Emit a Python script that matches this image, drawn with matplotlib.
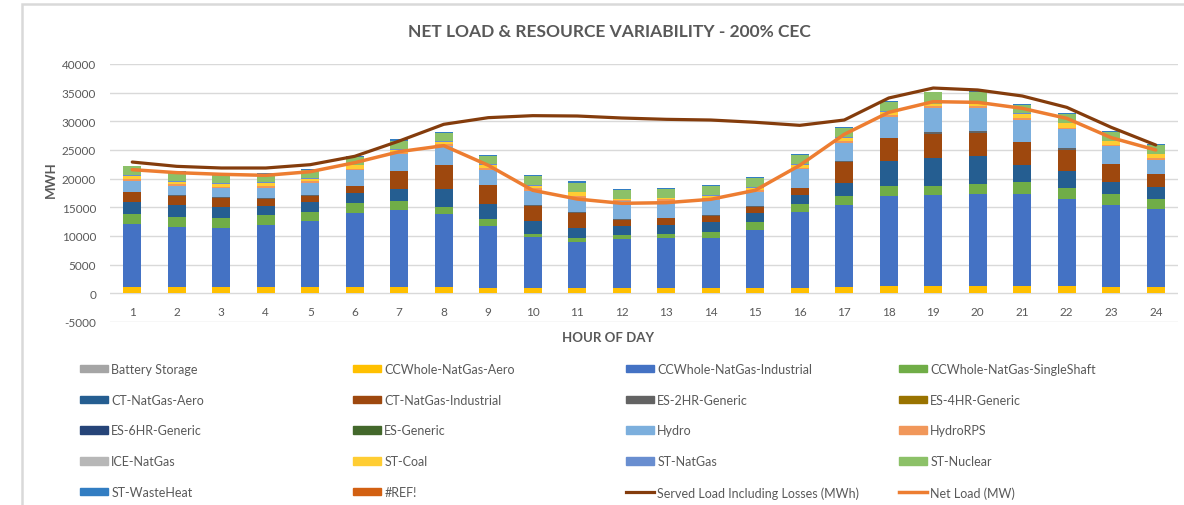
import matplotlib
matplotlib.use("Agg")
import matplotlib.pyplot as plt
import matplotlib.patches as mpatches
import matplotlib.lines as mlines
import numpy as np

plt.rcParams['font.family'] = ['Lato', 'DejaVu Sans']
plt.rcParams['axes.unicode_minus'] = False

hours = [str(h) for h in range(1, 25)]

# generation by resource, MWh per hour
battery_storage = [0] * 24
cc_aero = [1150, 1150, 1150, 1150, 1150, 1150, 1150, 1150, 1000, 1000, 1000, 1000,
           1000, 1000, 1000, 1000, 1150, 1280, 1280, 1280, 1280, 1280, 1160, 1160]
cc_industrial = [10950, 10420, 10190, 10770, 11520, 12860, 13380, 12630, 10740, 8880, 8010, 8480,
                 8590, 8650, 10050, 13190, 14260, 15640, 15930, 16050, 16050, 15230, 14310, 13610]
cc_singleshaft = [1800, 1800, 1740, 1740, 1520, 1800, 1520, 1340, 1230, 470, 580, 640,
                  760, 1110, 1330, 1330, 1510, 1740, 1570, 1740, 2030, 1860, 1860, 1740]
ct_aero = [2030, 2100, 2040, 1630, 1740, 1690, 2090, 3140, 2550, 2270, 1860, 1620,
           1570, 1680, 1690, 1690, 2380, 4360, 4770, 4830, 3020, 2910, 2030, 2090]
ct_industrial = [1690, 1560, 1570, 1220, 1100, 1160, 3200, 4120, 3320, 2670, 2620, 1110,
                 1220, 1110, 1050, 1160, 3670, 4070, 4240, 4070, 4020, 3780, 3140, 2210]
es_2hr = [80, 80, 80, 80, 80, 80, 80, 80, 80, 80, 80, 80,
          80, 80, 80, 80, 80, 80, 350, 340, 80, 230, 80, 80]
es_4hr = [0] * 24
es_6hr = [0] * 24
es_generic = [0] * 24
hydro = [1890, 1610, 1540, 1780, 2130, 2710, 2820, 3300, 2590, 2540, 2540, 3120,
         2940, 2710, 2420, 3240, 3230, 3640, 4130, 3960, 3750, 3310, 3060, 2420]
hydro_rps = [350, 290, 180, 290, 290, 240, 240, 230, 350, 400, 290, 170,
             240, 350, 350, 230, 290, 350, 350, 350, 350, 240, 290, 290]
ice_natgas = [0] * 24
st_coal = [520, 410, 640, 580, 470, 640, 520, 410, 520, 470, 640, 180,
           170, 290, 460, 520, 580, 530, 350, 400, 700, 810, 580, 640]
st_natgas = [100] * 24
st_nuclear = [1590, 1640, 1410, 1470, 1470, 1350, 1530, 1410, 1530, 1530, 1580, 1520,
              1470, 1640, 1530, 1530, 1530, 1520, 1990, 1940, 1530, 1530, 1470, 1530]
st_wasteheat = [60, 150, 150, 150, 200, 200, 250, 200, 180, 230, 230, 180,
                170, 180, 170, 170, 170, 180, 110, 170, 170, 170, 230, 180]
ref_err = [0] * 24

served_load = [22900, 22150, 21860, 21860, 22440, 23900, 26570, 29480, 30640, 30990, 30930, 30580,
               30350, 30230, 29830, 29300, 30230, 34070, 35810, 35470, 34420, 32440, 28950, 25870]
net_load = [21570, 21050, 20760, 20580, 21220, 22790, 24710, 25760, 22330, 17970, 16450, 15700,
            15810, 16400, 17970, 22330, 27730, 31570, 33430, 33310, 32270, 30520, 27150, 25000]

series = [
    ("Battery Storage", battery_storage, "#A5A5A5"),
    ("CCWhole-NatGas-Aero", cc_aero, "#FFC000"),
    ("CCWhole-NatGas-Industrial", cc_industrial, "#4472C4"),
    ("CCWhole-NatGas-SingleShaft", cc_singleshaft, "#70AD47"),
    ("CT-NatGas-Aero", ct_aero, "#255E91"),
    ("CT-NatGas-Industrial", ct_industrial, "#9E480E"),
    ("ES-2HR-Generic", es_2hr, "#636363"),
    ("ES-4HR-Generic", es_4hr, "#997300"),
    ("ES-6HR-Generic", es_6hr, "#264478"),
    ("ES-Generic", es_generic, "#43682B"),
    ("Hydro", hydro, "#7CAFDD"),
    ("HydroRPS", hydro_rps, "#F1975A"),
    ("ICE-NatGas", ice_natgas, "#B7B7B7"),
    ("ST-Coal", st_coal, "#FFCD33"),
    ("ST-NatGas", st_natgas, "#698ED0"),
    ("ST-Nuclear", st_nuclear, "#8CC168"),
    ("ST-WasteHeat", st_wasteheat, "#327DC2"),
    ("#REF!", ref_err, "#D26012"),
]

txt = "#595959"
grid = "#D9D9D9"

fig = plt.figure(figsize=(11.84, 5.06), dpi=100)
W, H = 1184, 506

# chart frame
fig.patches.append(mpatches.Rectangle((22 / W, -0.1), 1.2, 1 - 5 / H + 0.1,
                                      transform=fig.transFigure, fill=False,
                                      edgecolor=grid, linewidth=1.8))

ax = fig.add_axes([110 / W, (H - 323) / H, 1068 / W, 258 / H])
x = np.arange(len(hours))
bottom = np.zeros(len(hours))
handles = []
for name, vals, col in series:
    vals = np.array(vals, dtype=float)
    ax.bar(x, vals, 0.4, bottom=bottom, color=col, linewidth=0, zorder=2)
    bottom += vals
    handles.append(mpatches.Patch(color=col, label=name))

ax.plot(x, served_load, color="#843C0C", lw=2.3, zorder=3, solid_capstyle='round')
ax.plot(x, net_load, color="#ED7D31", lw=2.5, zorder=4, solid_capstyle='round')
handles.append(mlines.Line2D([], [], color="#843C0C", lw=2.3, label="Served Load Including Losses (MWh)"))
handles.append(mlines.Line2D([], [], color="#ED7D31", lw=2.5, label="Net Load (MW)"))

ax.set_xlim(-0.5, 23.5)
ax.set_ylim(-5000, 40000)
ax.set_yticks(range(-5000, 40001, 5000))
ax.set_xticks(x)
ax.set_xticklabels(hours, fontweight='bold')
ax.grid(axis='y', color=grid, lw=1, zorder=0)
ax.set_axisbelow(True)
for s in ax.spines.values():
    s.set_visible(False)
# category labels sit just under the zero line, as in Excel
ax.spines['bottom'].set_position(('data', 0))
ax.tick_params(axis='both', length=0, colors=txt, labelsize=8.5)
ax.tick_params(axis='x', pad=9)
ax.tick_params(axis='y', pad=10)

fig.text(609 / W, 1 - 32 / H, "NET LOAD & RESOURCE VARIABILITY - 200% CEC",
         ha='center', va='center', fontsize=12.5, fontweight='bold', color=txt)
fig.text(608 / W, 1 - 338 / H, "HOUR OF DAY", ha='center', va='center',
         fontsize=9.5, fontweight='bold', color=txt)
fig.text(51 / W, 1 - 180 / H, "MWH", ha='center', va='center', rotation=90,
         fontsize=9.5, fontweight='bold', color=txt)

# legend in 4 columns, filled row by row like Excel
col_x = [80, 353, 626, 899]
for c in range(4):
    hs = [handles[r * 4 + c] for r in range(5)]
    leg = fig.legend(handles=hs, loc='upper left', bbox_to_anchor=(col_x[c] / W, 1 - 364 / H),
                     frameon=False, fontsize=9, handlelength=2.2, handleheight=0.55,
                     handletextpad=0.3, labelspacing=1.5, borderaxespad=0, borderpad=0)
    for t in leg.get_texts():
        t.set_color(txt)

fig.savefig("out.png", dpi=100)
